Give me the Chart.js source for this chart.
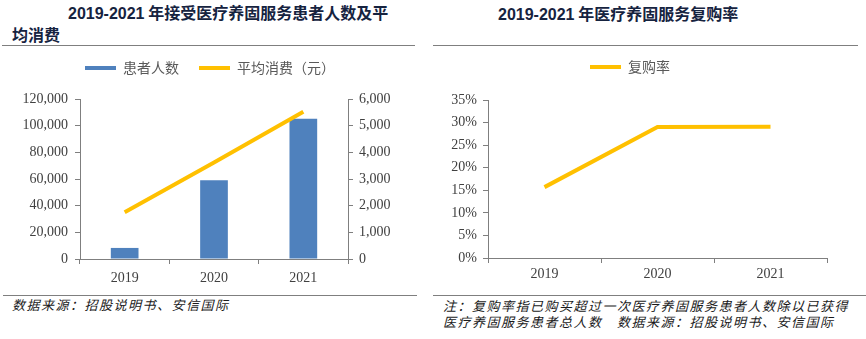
<!DOCTYPE html>
<html>
<head>
<meta charset="utf-8">
<script src="https://cdn.jsdelivr.net/npm/chart.js@4.4.0/dist/chart.umd.min.js"></script>
<style>
  body { margin: 0; background: #fff; width: 866px; height: 339px; position: relative; overflow: hidden; font-family: "Noto Sans CJK SC", sans-serif; }
  .title { position: absolute; color: #16233f; font-weight: bold; font-size: 16px; line-height: 22px; }
  .title .num { font-family: "Liberation Sans", Arial, sans-serif; }
  .rule { position: absolute; height: 0; border-top: 1.5px solid #7f7f7f; }
  .note { position: absolute; font-size: 13px; font-style: italic; letter-spacing: 1.5px; color: #1a1a1a; line-height: 16px; }
  .box { position: absolute; }
</style>
</head>
<body>
<div class="title" style="left:68px; top:1px;"><span class="num">2019-2021</span> 年接受医疗养固服务患者人数及平</div>
<div class="title" style="left:12px; top:23px;">均消费</div>
<div class="title" style="left:498px; top:2px;"><span class="num">2019-2021</span> 年医疗养固服务复购率</div>
<div class="rule" style="left:2px; top:45px; width:413px;"></div>
<div class="rule" style="left:433px; top:45px; width:425px;"></div>

<div class="box" style="left:0; top:38px; width:420px; height:254px;"><canvas id="left"></canvas></div>
<div class="box" style="left:433px; top:38px; width:433px; height:250px;"><canvas id="right"></canvas></div>

<div class="rule" style="left:3px; top:295px; width:414px;"></div>
<div class="rule" style="left:433px; top:295px; width:433px;"></div>
<div class="note" style="left:12px; top:297px;">数据来源：招股说明书、安信国际</div>
<div class="note" style="left:443px; top:298px;">注：复购率指已购买超过一次医疗养固服务患者人数除以已获得<br>医疗养固服务患者总人数　数据来源：招股说明书、安信国际</div>

<script>
// 数据
const years = ['2019', '2020', '2021'];
const patients = [8300, 59000, 105200];      // 患者人数
const avgSpend = [1750, 3620, 5520];         // 平均消费（元）
const repurchase = [15.7, 29.0, 29.1];       // 复购率 %

const leftTicks = [0, 20000, 40000, 60000, 80000, 100000, 120000];
const rightTicks = [0, 1000, 2000, 3000, 4000, 5000, 6000];

const blue = '#4f81bd';
const yellow = '#ffc000';
const axisGray = '#7f7f7f';
const tickColor = '#404040';
const serif = { family: 'Liberation Serif', size: 14 };

// legend: kotak tipis tanpa garis tepi
function legendItems(chart) {
    return chart.data.datasets.map((ds, i) => ({
        text: ds.label,
        fillStyle: ds.type === 'line' || chart.config.type === 'line' ? ds.borderColor : ds.backgroundColor,
        strokeStyle: 'rgba(0,0,0,0)',
        lineWidth: 0,
        fontColor: '#595959',
        hidden: false,
        datasetIndex: i
    }));
}

// tambah jarak di bawah legend
const legendGap = {
    id: 'legendGap',
    beforeLayout(chart, args, opts) {
        const lg = chart.legend;
        if (lg && !lg._gapWrapped) {
            const fit = lg.fit.bind(lg);
            lg.fit = function () { fit(); this.height += opts.extra || 0; };
            lg._gapWrapped = true;
        }
    }
};

const legendOpts = {
    display: true,
    position: 'top',
    labels: {
        boxWidth: 31,
        boxHeight: 4,
        padding: 20,
        font: { family: '"Noto Sans CJK SC", sans-serif', size: 14 },
        generateLabels: legendItems
    }
};

function fixWidth(w) { return function (scale) { scale.width = w; }; }
function fixHeight(h) { return function (scale) { scale.height = h; }; }

new Chart(document.getElementById('left'), {
    type: 'bar',
    plugins: [legendGap],
    data: {
        labels: years,
        datasets: [
            {
                type: 'line',
                label: '平均消费（元）',
                data: avgSpend,
                yAxisID: 'y1',
                borderColor: yellow,
                backgroundColor: yellow,
                borderWidth: 4,
                pointRadius: 0,
                tension: 0,
                order: 0
            },
            {
                label: '患者人数',
                data: patients,
                yAxisID: 'y',
                backgroundColor: blue,
                categoryPercentage: 1,
                barPercentage: 0.31,
                order: 1
            }
        ]
    },
    options: {
        responsive: true,
        maintainAspectRatio: false,
        animation: false,
        layout: { padding: { top: 3, left: 0, right: 0, bottom: 0 } },
        plugins: {
            legendGap: { extra: 14 },
            legend: Object.assign({}, legendOpts, {
                labels: Object.assign({}, legendOpts.labels, {
                    sort: (a, b) => b.datasetIndex - a.datasetIndex
                })
            }),
            tooltip: { enabled: false }
        },
        scales: {
            x: {
                grid: { display: true, offset: true, drawOnChartArea: false, color: axisGray, tickLength: 5 },
                border: { color: axisGray },
                ticks: { color: tickColor, font: serif, padding: 6 },
                afterFit: fixHeight(33)
            },
            y: {
                position: 'left',
                min: 0, max: 120000,
                afterBuildTicks: scale => { scale.ticks = leftTicks.map(v => ({ value: v })); },
                grid: { drawOnChartArea: false, color: axisGray, tickLength: 5 },
                border: { color: axisGray },
                ticks: { color: tickColor, font: serif, padding: 7, callback: v => v.toLocaleString('en-US') },
                afterFit: fixWidth(80)
            },
            y1: {
                position: 'right',
                min: 0, max: 6000,
                afterBuildTicks: scale => { scale.ticks = rightTicks.map(v => ({ value: v })); },
                grid: { drawOnChartArea: false, color: axisGray, tickLength: 5 },
                border: { color: axisGray },
                ticks: { color: tickColor, font: serif, padding: 6, callback: v => v.toLocaleString('en-US') },
                afterFit: fixWidth(72)
            }
        }
    }
});

new Chart(document.getElementById('right'), {
    type: 'line',
    plugins: [legendGap],
    data: {
        labels: years,
        datasets: [{
            label: '复购率',
            data: repurchase,
            borderColor: yellow,
            backgroundColor: yellow,
            borderWidth: 4,
            pointRadius: 0,
            tension: 0
        }]
    },
    options: {
        responsive: true,
        maintainAspectRatio: false,
        animation: false,
        layout: { padding: { top: 2, left: 0, right: 39, bottom: 0 } },
        plugins: {
            legendGap: { extra: 16 },
            legend: legendOpts,
            tooltip: { enabled: false }
        },
        scales: {
            x: {
                offset: true,
                grid: { display: true, offset: true, drawOnChartArea: false, color: axisGray, tickLength: 5 },
                border: { color: axisGray },
                ticks: { color: tickColor, font: serif, padding: 3 },
                afterFit: fixHeight(30)
            },
            y: {
                min: 0, max: 35,
                ticks: { stepSize: 5, color: tickColor, font: serif, padding: 6, callback: v => v + '%' },
                grid: { drawOnChartArea: false, color: axisGray, tickLength: 5 },
                border: { color: axisGray },
                afterFit: fixWidth(55)
            }
        }
    }
});
</script>
</body>
</html>
